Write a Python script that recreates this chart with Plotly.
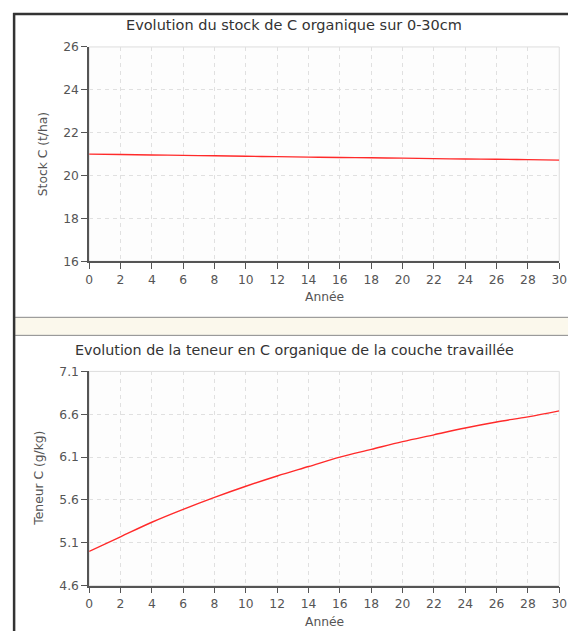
import plotly.graph_objects as go

years = [0, 2, 4, 6, 8, 10, 12, 14, 16, 18, 20, 22, 24, 26, 28, 30]
stock_c = [21.00, 20.98, 20.96, 20.94, 20.92, 20.90, 20.88, 20.86, 20.84, 20.83,
           20.81, 20.79, 20.77, 20.76, 20.74, 20.72]
teneur_c = [5.00, 5.17, 5.34, 5.49, 5.63, 5.76, 5.88, 5.99, 6.10, 6.19,
            6.28, 6.36, 6.44, 6.51, 6.57, 6.64]
x_ticks = list(range(0, 31, 2))
stock_ticks = [16, 18, 20, 22, 24, 26]
teneur_ticks = [4.6, 5.1, 5.6, 6.1, 6.6, 7.1]

W, H = 580, 646
# map target picture pixels to page pixels
def px(x): return ((x - 3.9) / 0.979) / W
def py(y): return 1 - ((y - 7.1) / 0.977) / H

FONT = "DejaVu Sans"
TXT = "#333333"
TICK = "#555555"
LINE = "#ff2a2a"
FS = 12.3

fig = go.Figure()
fig.add_trace(go.Scatter(x=years, y=stock_c, mode="lines", line=dict(color=LINE, width=1.4, shape="spline"),
                         xaxis="x", yaxis="y", showlegend=False, hoverinfo="skip"))
fig.add_trace(go.Scatter(x=years, y=teneur_c, mode="lines", line=dict(color=LINE, width=1.4, shape="spline"),
                         xaxis="x2", yaxis="y2", showlegend=False, hoverinfo="skip"))

xdom = [px(89), px(559)]
axis_common = dict(showgrid=True, gridcolor="#e0e0e0", griddash="4px,4px", gridwidth=1,
                   showline=True, linecolor="#555555", linewidth=1.5,
                   ticks="outside", ticklen=6, tickcolor="#555555", tickwidth=1.2,
                   tickfont=dict(family=FONT, size=FS, color=TICK), zeroline=False)

fig.update_layout(
    width=W, height=H, margin=dict(l=0, r=0, t=0, b=0),
    paper_bgcolor="white", plot_bgcolor="#fdfdfd",
    xaxis=dict(domain=xdom, anchor="y", range=[0, 30], tickvals=x_ticks, **axis_common),
    yaxis=dict(domain=[py(261), py(47)], anchor="x", range=[16, 26], tickvals=stock_ticks, **axis_common),
    xaxis2=dict(domain=xdom, anchor="y2", range=[0, 30], tickvals=x_ticks, **axis_common),
    yaxis2=dict(domain=[py(585), py(371)], anchor="x2", range=[4.6, 7.1], tickvals=teneur_ticks,
                tickformat=".1f", **axis_common),
)

shapes = []
for xr, yr in (("x domain", "y domain"), ("x2 domain", "y2 domain")):
    shapes.append(dict(type="rect", xref=xr, yref=yr, x0=0, x1=1, y0=0, y1=1,
                       line=dict(color="#dddddd", width=1), layer="below"))
shapes.append(dict(type="rect", xref="paper", yref="paper", x0=px(15), x1=1, y0=py(335), y1=py(317),
                   fillcolor="#fbf8ec", line=dict(width=0), layer="above"))
for yy in (317, 335):
    shapes.append(dict(type="line", xref="paper", yref="paper", x0=px(15), x1=1, y0=py(yy), y1=py(yy),
                       line=dict(color="#888888", width=1)))
shapes.append(dict(type="line", xref="paper", yref="paper", x0=px(13), x1=1, y0=py(14), y1=py(14),
                   line=dict(color="#333333", width=2.5)))
shapes.append(dict(type="line", xref="paper", yref="paper", x0=px(14), x1=px(14), y0=py(13), y1=0,
                   line=dict(color="#333333", width=2.5)))
fig.update_layout(shapes=shapes)

ann = [
    dict(text="Evolution du stock de C organique sur 0-30cm", x=px(294), y=py(25), size=14.5, angle=0, color=TXT),
    dict(text="Evolution de la teneur en C organique de la couche travaillée", x=px(294), y=py(350), size=14.3, angle=0, color=TXT),
    dict(text="Année", x=px(324), y=py(297), size=FS, angle=0, color=TICK),
    dict(text="Année", x=px(324), y=py(621), size=FS, angle=0, color=TICK),
    dict(text="Stock C (t/ha)", x=px(43), y=py(154), size=FS, angle=-90, color=TICK),
    dict(text="Teneur C (g/kg)", x=px(38), y=py(478), size=FS, angle=-90, color=TICK),
]
fig.update_layout(annotations=[
    dict(text=a["text"], x=a["x"], y=a["y"], xref="paper", yref="paper", showarrow=False,
         xanchor="center", yanchor="middle", textangle=a["angle"],
         font=dict(family=FONT, size=a["size"], color=a["color"]))
    for a in ann
])

fig.write_html("out.html", config={"displayModeBar": False},
               post_script="document.body.style.margin='0';document.body.style.overflow='hidden';")
